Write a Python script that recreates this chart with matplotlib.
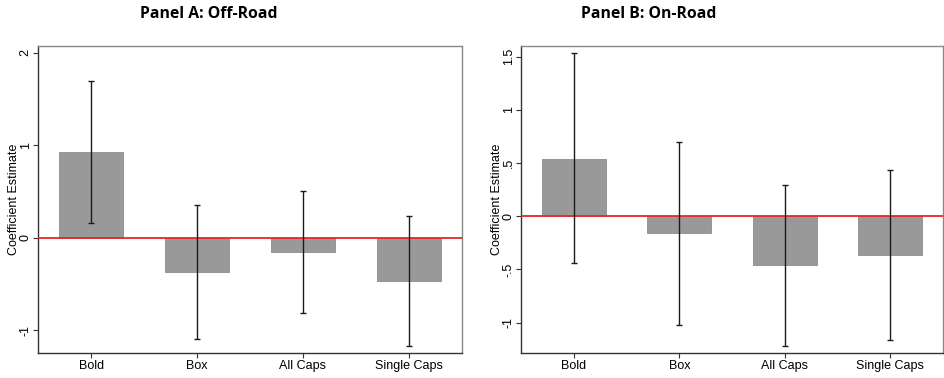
import numpy as np
import matplotlib.pyplot as plt
from matplotlib.ticker import FuncFormatter

# Adatok
categories = ["Bold", "Box", "All Caps", "Single Caps"]

offroad_coef = [0.925, -0.367, -0.151, -0.468]
offroad_hi = [1.695, 0.356, 0.504, 0.234]
offroad_lo = [0.162, -1.094, -0.817, -1.170]

onroad_coef = [0.541, -0.160, -0.458, -0.364]
onroad_hi = [1.532, 0.695, 0.297, 0.435]
onroad_lo = [-0.442, -1.022, -1.222, -1.165]

titles = ["Panel A: Off-Road", "Panel B: On-Road"]


def stata_fmt(v, pos):
    s = ("%g" % v)
    if s.startswith("0.") and len(s) > 2:
        s = s[1:]
    elif s.startswith("-0."):
        s = "-" + s[2:]
    return s


fig = plt.figure(figsize=(9.44, 3.78), dpi=100)
plt.rcParams['font.family'] = ['Liberation Sans', 'DejaVu Sans']

axA = fig.add_axes([0.0406, 0.0653, 0.4485, 0.8137])
axB = fig.add_axes([0.5522, 0.0653, 0.4465, 0.8137])

panels = [
    (axA, offroad_coef, offroad_hi, offroad_lo, (-1.248, 2.076), [-1, 0, 1, 2]),
    (axB, onroad_coef, onroad_hi, onroad_lo, (-1.288, 1.603), [-1, -0.5, 0, 0.5, 1, 1.5]),
]

x = np.arange(1, len(categories) + 1)
for ax, coef, hi, lo, ylim, yticks in panels:
    coef = np.array(coef)
    err = np.vstack([coef - np.array(lo), np.array(hi) - coef])
    ax.bar(x, coef, width=0.605, color='#999999', edgecolor='#8c8c8c', linewidth=0.6, zorder=2)
    ax.axhline(0, color='#e8262b', linewidth=1.3, zorder=3)
    ax.errorbar(x, coef, yerr=err, fmt='none', ecolor='#1a1a1a', elinewidth=1.0,
                capsize=2.2, capthick=1.0, zorder=4)
    ax.set_xlim(0.5, 4.5)
    ax.set_ylim(*ylim)
    ax.set_xticks(x)
    ax.set_xticklabels(categories, fontsize=9)
    ax.set_yticks(yticks)
    ax.yaxis.set_major_formatter(FuncFormatter(stata_fmt))
    for lab in ax.get_yticklabels():
        lab.set_rotation(90)
        lab.set_va('center')
    ax.tick_params(axis='y', labelsize=9, length=3.6, width=0.8, pad=1.2, color='#333333')
    ax.tick_params(axis='x', length=3.6, width=0.8, pad=1.5, color='#333333')
    ax.set_ylabel("Coefficient Estimate", fontsize=9, labelpad=-0.5)
    for s in ['left', 'bottom']:
        ax.spines[s].set_color('#333333')
        ax.spines[s].set_linewidth(1.0)
    for s in ['top', 'right']:
        ax.spines[s].set_color('#888888')
        ax.spines[s].set_linewidth(1.0)

fig.text(209 / 944, 1 - 14.5 / 378, titles[0], ha='center', va='center',
         fontsize=11.3, fontweight='bold', family=['Open Sans', 'DejaVu Sans'])
fig.text(649 / 944, 1 - 14.5 / 378, titles[1], ha='center', va='center',
         fontsize=11.3, fontweight='bold', family=['Open Sans', 'DejaVu Sans'])

fig.savefig("out.png", dpi=100)
